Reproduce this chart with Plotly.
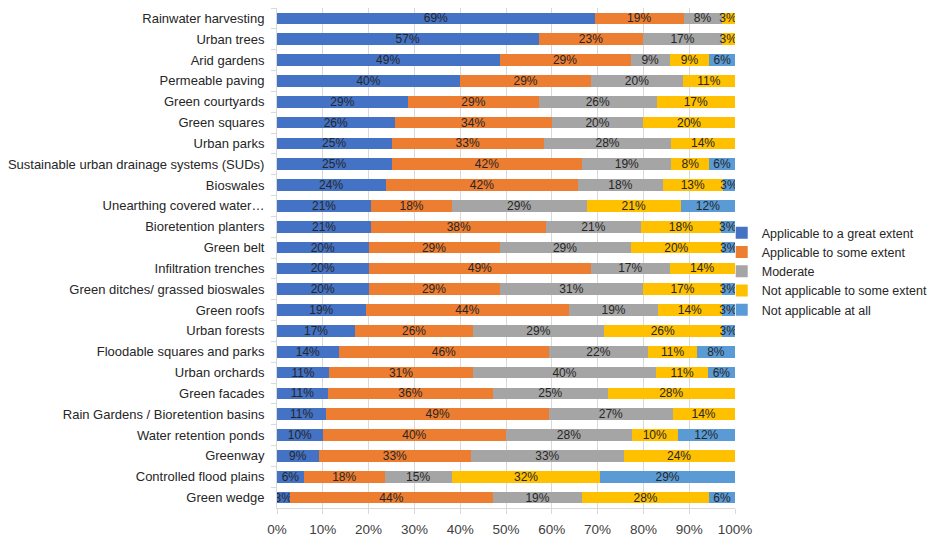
import plotly.graph_objects as go

categories = [
    "Rainwater harvesting", "Urban trees", "Arid gardens", "Permeable paving",
    "Green courtyards", "Green squares", "Urban parks",
    "Sustainable urban drainage systems (SUDs)", "Bioswales",
    "Unearthing covered water…", "Bioretention planters", "Green belt",
    "Infiltration trenches", "Green ditches/ grassed bioswales", "Green roofs",
    "Urban forests", "Floodable squares and parks", "Urban orchards",
    "Green facades", "Rain Gardens / Bioretention basins",
    "Water retention ponds", "Greenway", "Controlled flood plains", "Green wedge",
]

great_extent = [69.4, 57.1, 48.6, 40.0, 28.6, 25.7, 25.0, 25.0, 23.7, 20.6, 20.6, 20.0,
                20.0, 20.0, 19.4, 17.1, 13.5, 11.4, 11.1, 10.8, 10.0, 9.1, 5.9, 2.8]
some_extent = [19.4, 22.9, 28.6, 28.6, 28.6, 34.3, 33.3, 41.7, 42.1, 17.6, 38.2, 28.6,
               48.6, 28.6, 44.4, 25.7, 45.9, 31.4, 36.1, 48.6, 40.0, 33.3, 17.6, 44.4]
moderate = [8.3, 17.1, 8.6, 20.0, 25.7, 20.0, 27.8, 19.4, 18.4, 29.4, 20.6, 28.6,
            17.1, 31.4, 19.4, 28.6, 21.6, 40.0, 25.0, 27.0, 27.5, 33.3, 14.7, 19.4]
not_some_extent = [2.8, 2.9, 8.6, 11.4, 17.1, 20.0, 13.9, 8.3, 13.2, 20.6, 17.6, 20.0,
                   14.3, 17.1, 13.9, 25.7, 10.8, 11.4, 27.8, 13.5, 10.0, 24.2, 32.4, 27.8]
not_at_all = [0, 0, 5.7, 0, 0, 0, 0, 5.6, 2.6, 11.8, 2.9, 2.9,
              0, 2.9, 2.8, 2.9, 8.1, 5.7, 0, 0, 12.5, 0, 29.4, 5.6]

series = [
    ("Applicable to a great extent", great_extent, "#4472C4"),
    ("Applicable to some extent", some_extent, "#ED7D31"),
    ("Moderate", moderate, "#A5A5A5"),
    ("Not applicable to some extent", not_some_extent, "#FFC000"),
    ("Not applicable at all", not_at_all, "#5B9BD5"),
]

FONT = "Liberation Sans"

fig = go.Figure()
for name, vals, color in series:
    labels = [f"{v:.0f}%" if v > 0 else "" for v in vals]
    fig.add_trace(go.Bar(
        name=name, y=categories, x=vals, orientation="h",
        marker=dict(color=color, line=dict(width=0)),
        text=labels, textposition="inside", insidetextanchor="middle",
        textangle=0, constraintext="none",
        textfont=dict(family=FONT, size=12, color="#262626"),
        hoverinfo="name+x",
    ))

fig.update_layout(
    barmode="stack",
    bargap=0.44,
    width=941, height=545,
    margin=dict(l=277, r=206, t=8, b=28),
    paper_bgcolor="white", plot_bgcolor="white",
    font=dict(family=FONT, size=12, color="#262626"),
    legend=dict(
        x=0.971, y=0.580, xanchor="left", yanchor="top",
        font=dict(family=FONT, size=12.5, color="#262626"),
        traceorder="normal", itemwidth=30, tracegroupgap=0,
        bgcolor="rgba(0,0,0,0)",
    ),
)
fig.update_xaxes(
    range=[0, 100], tickmode="array",
    tickvals=[0, 10, 20, 30, 40, 50, 60, 70, 80, 90, 100],
    ticktext=["0%", "10%", "20%", "30%", "40%", "50%", "60%", "70%", "80%", "90%", "100%"],
    showgrid=True, gridcolor="#D9D9D9", gridwidth=1,
    showline=True, linecolor="#D9D9D9", linewidth=1,
    ticks="outside", tickcolor="#D9D9D9", ticklen=5,
    ticklabelstandoff=4,
    tickfont=dict(family=FONT, size=13.5, color="#404040"),
    zeroline=False, fixedrange=True,
)
fig.update_yaxes(
    autorange="reversed", type="category",
    showline=True, linecolor="#D9D9D9", linewidth=1,
    ticks="outside", tickson="boundaries", tickcolor="#D9D9D9", ticklen=5,
    ticklabelstandoff=9,
    tickfont=dict(family=FONT, size=13, color="#262626"),
    showgrid=False, fixedrange=True,
)

fig.write_html("out.html")
